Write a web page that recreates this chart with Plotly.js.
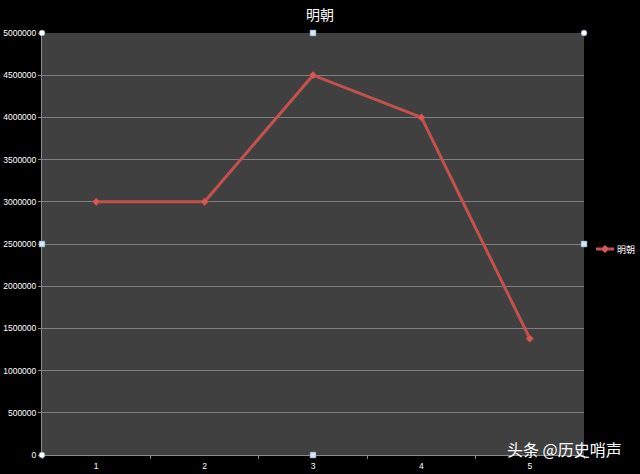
<!DOCTYPE html>
<html>
<head>
<meta charset="utf-8">
<script src="https://cdn.plot.ly/plotly-3.0.1.min.js"></script>
<style>
  html, body { margin: 0; padding: 0; background: #000; }
  #chart { width: 640px; height: 474px; }
</style>
</head>
<body>
<div id="chart"></div>
<script>
const categories = [1, 2, 3, 4, 5];
const seriesName = "明朝";
const values = [3000000, 3000000, 4500000, 4000000, 1380000];

const CJK = "'Noto Sans CJK SC', 'Noto Sans', sans-serif";
const NUM = "'Liberation Sans', Arial, sans-serif";
const RED = "#c6504e";

// Excel-style selection handles round the plot area
function handle(x, y, round) {
  return {
    type: round ? "circle" : "rect",
    xref: "paper", yref: "paper",
    xsizemode: "pixel", ysizemode: "pixel",
    xanchor: x, yanchor: y,
    x0: -3, x1: 3, y0: -3, y1: 3,
    fillcolor: round ? "#ffffff" : "#dce6f2",
    line: { color: "#5b7fa6", width: 0.6 },
    layer: "above"
  };
}
const shapes = [
  handle(0, 1, true), handle(1, 1, true), handle(0, 0, true),
  handle(0.5, 1, false), handle(0.5, 0, false),
  handle(0, 0.5, false), handle(1, 0.5, false),
  // legend key, drawn by hand so it sits close to the plot like Excel does
  {
    type: "line", xref: "paper", yref: "paper",
    xsizemode: "pixel", ysizemode: "pixel", xanchor: 1, yanchor: 0.5,
    x0: 12, x1: 30, y0: -5, y1: -5,
    line: { color: RED, width: 3 }
  },
  {
    type: "path", xref: "paper", yref: "paper",
    xsizemode: "pixel", ysizemode: "pixel", xanchor: 1, yanchor: 0.5,
    path: "M17,-5 L21,-1 L25,-5 L21,-9 Z",
    fillcolor: "#d55a57", line: { color: "#a03c3a", width: 0.5 }
  }
];

const trace = {
  type: "scatter",
  mode: "lines+markers",
  name: seriesName,
  x: categories,
  y: values,
  line: { color: RED, width: 3 },
  marker: { symbol: "diamond", size: 6, color: "#d55a57", line: { color: "#a03c3a", width: 0.5 } }
};

const layout = {
  width: 640,
  height: 474,
  paper_bgcolor: "#000000",
  plot_bgcolor: "#404040",
  margin: { l: 42, r: 56, t: 33, b: 19, autoexpand: false },
  title: {
    text: "明朝",
    font: { family: CJK, size: 14, color: "#ffffff" },
    x: 0.5, xanchor: "center", y: 0.968, yanchor: "middle"
  },
  xaxis: {
    type: "linear",
    range: [0.5, 5.5],
    tickvals: categories,
    ticktext: categories.map(String),
    ticks: "",
    ticklabelstandoff: 3,
    showgrid: false,
    zeroline: false,
    showline: true,
    linecolor: "#8c8c8c",
    linewidth: 1,
    tickfont: { family: NUM, size: 8.5, color: "#ffffff" },
    minor: { ticks: "outside", tick0: 0.5, dtick: 1, ticklen: 3, tickcolor: "#8c8c8c", showgrid: false }
  },
  yaxis: {
    range: [0, 5000000],
    dtick: 500000,
    tickformat: "d",
    showgrid: true,
    gridcolor: "#7f7f7f",
    gridwidth: 1,
    zeroline: false,
    showline: true,
    linecolor: "#8c8c8c",
    ticks: "outside",
    ticklen: 3,
    tickcolor: "#8c8c8c",
    tickfont: { family: NUM, size: 8.5, color: "#ffffff" }
  },
  showlegend: false,
  shapes: shapes,
  annotations: [
    {
      text: seriesName,
      xref: "paper", yref: "paper",
      x: 1.0572, y: 0.488,
      xanchor: "left", yanchor: "middle",
      showarrow: false,
      font: { family: CJK, size: 9, color: "#ffffff" }
    },
    {
      text: "头条 @历史哨声",
      xref: "paper", yref: "paper",
      x: 1.074, y: 0.015,
      xanchor: "right", yanchor: "middle",
      showarrow: false,
      font: { family: CJK, size: 16, color: "#ffffff" }
    }
  ]
};

Plotly.newPlot("chart", [trace], layout, { displayModeBar: false, staticPlot: true });
</script>
</body>
</html>
